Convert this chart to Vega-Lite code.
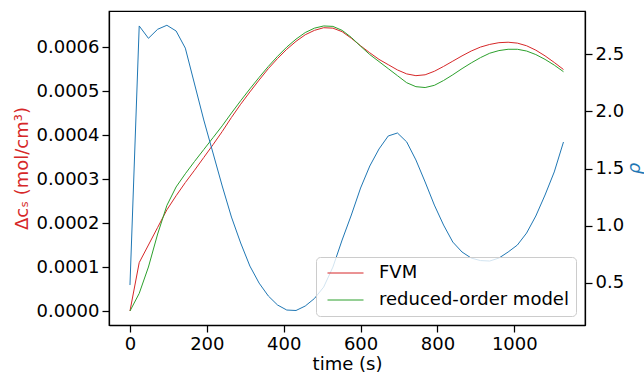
{
  "$schema": "https://vega.github.io/schema/vega-lite/v6.json",
  "width": 476,
  "height": 314,
  "autosize": {"type": "none"},
  "padding": {"left": 109, "top": 11, "right": 59, "bottom": 50},
  "background": "white",
  "config": {
    "font": "DejaVu Sans",
    "view": {"stroke": "black", "strokeWidth": 1.25},
    "axis": {
      "grid": false,
      "domainColor": "black",
      "domainWidth": 1.25,
      "tickColor": "black",
      "tickWidth": 1.25,
      "tickSize": 7,
      "labelFontSize": 18,
      "labelColor": "black",
      "labelPadding": 3,
      "titleFontSize": 18,
      "titleFontWeight": "normal",
      "titleColor": "black"
    }
  },
  "datasets": {
    "conc": [
      {"time": 0, "model": "FVM", "dc": 0.0},
      {"time": 24, "model": "FVM", "dc": 0.000110},
      {"time": 48, "model": "FVM", "dc": 0.000150},
      {"time": 72, "model": "FVM", "dc": 0.000190},
      {"time": 96, "model": "FVM", "dc": 0.000230},
      {"time": 120, "model": "FVM", "dc": 0.000262},
      {"time": 144, "model": "FVM", "dc": 0.000292},
      {"time": 168, "model": "FVM", "dc": 0.000320},
      {"time": 192, "model": "FVM", "dc": 0.000349},
      {"time": 216, "model": "FVM", "dc": 0.000378},
      {"time": 240, "model": "FVM", "dc": 0.000408},
      {"time": 264, "model": "FVM", "dc": 0.000440},
      {"time": 288, "model": "FVM", "dc": 0.000470},
      {"time": 312, "model": "FVM", "dc": 0.000498},
      {"time": 336, "model": "FVM", "dc": 0.000525},
      {"time": 360, "model": "FVM", "dc": 0.000551},
      {"time": 384, "model": "FVM", "dc": 0.000574},
      {"time": 408, "model": "FVM", "dc": 0.000595},
      {"time": 432, "model": "FVM", "dc": 0.000613},
      {"time": 456, "model": "FVM", "dc": 0.000628},
      {"time": 480, "model": "FVM", "dc": 0.000638},
      {"time": 504, "model": "FVM", "dc": 0.000644},
      {"time": 528, "model": "FVM", "dc": 0.000643},
      {"time": 552, "model": "FVM", "dc": 0.000635},
      {"time": 576, "model": "FVM", "dc": 0.000620},
      {"time": 600, "model": "FVM", "dc": 0.000603},
      {"time": 624, "model": "FVM", "dc": 0.000587},
      {"time": 648, "model": "FVM", "dc": 0.000572},
      {"time": 672, "model": "FVM", "dc": 0.000560},
      {"time": 696, "model": "FVM", "dc": 0.000548},
      {"time": 720, "model": "FVM", "dc": 0.000539},
      {"time": 744, "model": "FVM", "dc": 0.000535},
      {"time": 768, "model": "FVM", "dc": 0.000537},
      {"time": 792, "model": "FVM", "dc": 0.000545},
      {"time": 816, "model": "FVM", "dc": 0.000556},
      {"time": 840, "model": "FVM", "dc": 0.000568},
      {"time": 864, "model": "FVM", "dc": 0.000580},
      {"time": 888, "model": "FVM", "dc": 0.000591},
      {"time": 912, "model": "FVM", "dc": 0.000600},
      {"time": 936, "model": "FVM", "dc": 0.000606},
      {"time": 960, "model": "FVM", "dc": 0.000610},
      {"time": 984, "model": "FVM", "dc": 0.000611},
      {"time": 1008, "model": "FVM", "dc": 0.000609},
      {"time": 1032, "model": "FVM", "dc": 0.000603},
      {"time": 1056, "model": "FVM", "dc": 0.000593},
      {"time": 1080, "model": "FVM", "dc": 0.000580},
      {"time": 1104, "model": "FVM", "dc": 0.000565},
      {"time": 1128, "model": "FVM", "dc": 0.000549},
      {"time": 0, "model": "reduced-order model", "dc": 0.0},
      {"time": 24, "model": "reduced-order model", "dc": 0.000040},
      {"time": 48, "model": "reduced-order model", "dc": 0.000100},
      {"time": 72, "model": "reduced-order model", "dc": 0.000175},
      {"time": 96, "model": "reduced-order model", "dc": 0.000240},
      {"time": 120, "model": "reduced-order model", "dc": 0.000282},
      {"time": 144, "model": "reduced-order model", "dc": 0.000312},
      {"time": 168, "model": "reduced-order model", "dc": 0.000340},
      {"time": 192, "model": "reduced-order model", "dc": 0.000367},
      {"time": 216, "model": "reduced-order model", "dc": 0.000394},
      {"time": 240, "model": "reduced-order model", "dc": 0.000421},
      {"time": 264, "model": "reduced-order model", "dc": 0.000450},
      {"time": 288, "model": "reduced-order model", "dc": 0.000478},
      {"time": 312, "model": "reduced-order model", "dc": 0.000505},
      {"time": 336, "model": "reduced-order model", "dc": 0.000531},
      {"time": 360, "model": "reduced-order model", "dc": 0.000556},
      {"time": 384, "model": "reduced-order model", "dc": 0.000579},
      {"time": 408, "model": "reduced-order model", "dc": 0.000600},
      {"time": 432, "model": "reduced-order model", "dc": 0.000618},
      {"time": 456, "model": "reduced-order model", "dc": 0.000633},
      {"time": 480, "model": "reduced-order model", "dc": 0.000643},
      {"time": 504, "model": "reduced-order model", "dc": 0.000648},
      {"time": 528, "model": "reduced-order model", "dc": 0.000647},
      {"time": 552, "model": "reduced-order model", "dc": 0.000638},
      {"time": 576, "model": "reduced-order model", "dc": 0.000622},
      {"time": 600, "model": "reduced-order model", "dc": 0.000602},
      {"time": 624, "model": "reduced-order model", "dc": 0.000583},
      {"time": 648, "model": "reduced-order model", "dc": 0.000567},
      {"time": 672, "model": "reduced-order model", "dc": 0.000551},
      {"time": 696, "model": "reduced-order model", "dc": 0.000535},
      {"time": 720, "model": "reduced-order model", "dc": 0.000519},
      {"time": 744, "model": "reduced-order model", "dc": 0.000510},
      {"time": 768, "model": "reduced-order model", "dc": 0.000508},
      {"time": 792, "model": "reduced-order model", "dc": 0.000513},
      {"time": 816, "model": "reduced-order model", "dc": 0.000524},
      {"time": 840, "model": "reduced-order model", "dc": 0.000537},
      {"time": 864, "model": "reduced-order model", "dc": 0.000551},
      {"time": 888, "model": "reduced-order model", "dc": 0.000564},
      {"time": 912, "model": "reduced-order model", "dc": 0.000576},
      {"time": 936, "model": "reduced-order model", "dc": 0.000586},
      {"time": 960, "model": "reduced-order model", "dc": 0.000592},
      {"time": 984, "model": "reduced-order model", "dc": 0.000595},
      {"time": 1008, "model": "reduced-order model", "dc": 0.000595},
      {"time": 1032, "model": "reduced-order model", "dc": 0.000591},
      {"time": 1056, "model": "reduced-order model", "dc": 0.000583},
      {"time": 1080, "model": "reduced-order model", "dc": 0.000572},
      {"time": 1104, "model": "reduced-order model", "dc": 0.000559},
      {"time": 1128, "model": "reduced-order model", "dc": 0.000544}
    ],
    "rho": [
      {"time": 0, "rho": 0.48},
      {"time": 24, "rho": 2.748},
      {"time": 48, "rho": 2.640},
      {"time": 72, "rho": 2.719},
      {"time": 96, "rho": 2.754},
      {"time": 120, "rho": 2.704},
      {"time": 144, "rho": 2.554},
      {"time": 168, "rho": 2.240},
      {"time": 192, "rho": 1.925},
      {"time": 216, "rho": 1.636},
      {"time": 240, "rho": 1.347},
      {"time": 264, "rho": 1.075},
      {"time": 288, "rho": 0.848},
      {"time": 312, "rho": 0.646},
      {"time": 336, "rho": 0.497},
      {"time": 360, "rho": 0.384},
      {"time": 384, "rho": 0.305},
      {"time": 408, "rho": 0.261},
      {"time": 432, "rho": 0.257},
      {"time": 456, "rho": 0.296},
      {"time": 480, "rho": 0.362},
      {"time": 504, "rho": 0.462},
      {"time": 528, "rho": 0.637},
      {"time": 552, "rho": 0.874},
      {"time": 576, "rho": 1.093},
      {"time": 600, "rho": 1.329},
      {"time": 624, "rho": 1.522},
      {"time": 648, "rho": 1.671},
      {"time": 672, "rho": 1.785},
      {"time": 696, "rho": 1.811},
      {"time": 720, "rho": 1.733},
      {"time": 744, "rho": 1.575},
      {"time": 768, "rho": 1.382},
      {"time": 792, "rho": 1.180},
      {"time": 816, "rho": 1.005},
      {"time": 840, "rho": 0.856},
      {"time": 864, "rho": 0.769},
      {"time": 888, "rho": 0.716},
      {"time": 912, "rho": 0.694},
      {"time": 936, "rho": 0.690},
      {"time": 960, "rho": 0.716},
      {"time": 984, "rho": 0.769},
      {"time": 1008, "rho": 0.830},
      {"time": 1032, "rho": 0.935},
      {"time": 1056, "rho": 1.084},
      {"time": 1080, "rho": 1.268},
      {"time": 1104, "rho": 1.470},
      {"time": 1128, "rho": 1.732}
    ]
  },
  "layer": [
    {
      "data": {"name": "conc"},
      "mark": {"type": "line", "strokeWidth": 1, "clip": true},
      "encoding": {
        "x": {
          "field": "time",
          "type": "quantitative",
          "scale": {"domain": [-54.6, 1184], "nice": false, "zero": false},
          "axis": {"values": [0, 200, 400, 600, 800, 1000], "format": "d", "title": "time (s)", "titlePadding": 2}
        },
        "y": {
          "field": "dc",
          "type": "quantitative",
          "scale": {"domain": [-0.0000318, 0.000682], "nice": false, "zero": false},
          "axis": {
            "orient": "left",
            "values": [0, 0.0001, 0.0002, 0.0003, 0.0004, 0.0005, 0.0006],
            "format": ".4f",
            "title": "Δcₛ (mol/cm³)",
            "titleColor": "#d62728",
            "titlePadding": 5
          }
        },
        "color": {
          "field": "model",
          "type": "nominal",
          "scale": {"domain": ["FVM", "reduced-order model"], "range": ["#d62728", "#2ca02c"]},
          "legend": {
            "title": null,
            "orient": "bottom-right",
            "offset": 9,
            "padding": 7,
            "rowPadding": 9,
            "symbolType": "M-1,0H7",
            "symbolSize": 81,
            "symbolStrokeWidth": 1,
            "labelOffset": 38,
            "labelFontSize": 18,
            "labelLimit": 400,
            "labelColor": "black",
            "strokeColor": "#cccccc",
            "fillColor": "rgba(255,255,255,0.8)",
            "cornerRadius": 4
          }
        }
      }
    },
    {
      "data": {"name": "rho"},
      "mark": {"type": "line", "strokeWidth": 1, "color": "#1f77b4", "clip": true},
      "encoding": {
        "x": {"field": "time", "type": "quantitative"},
        "y": {
          "field": "rho",
          "type": "quantitative",
          "scale": {"domain": [0.130, 2.879], "nice": false, "zero": false},
          "axis": {
            "orient": "right",
            "values": [0.5, 1.0, 1.5, 2.0, 2.5],
            "format": ".1f",
            "title": "ρ",
            "titleColor": "#1f77b4",
            "titleAngle": 270,
            "titleFontStyle": "italic",
            "titlePadding": 20
          }
        }
      }
    }
  ],
  "resolve": {"scale": {"y": "independent"}}
}
